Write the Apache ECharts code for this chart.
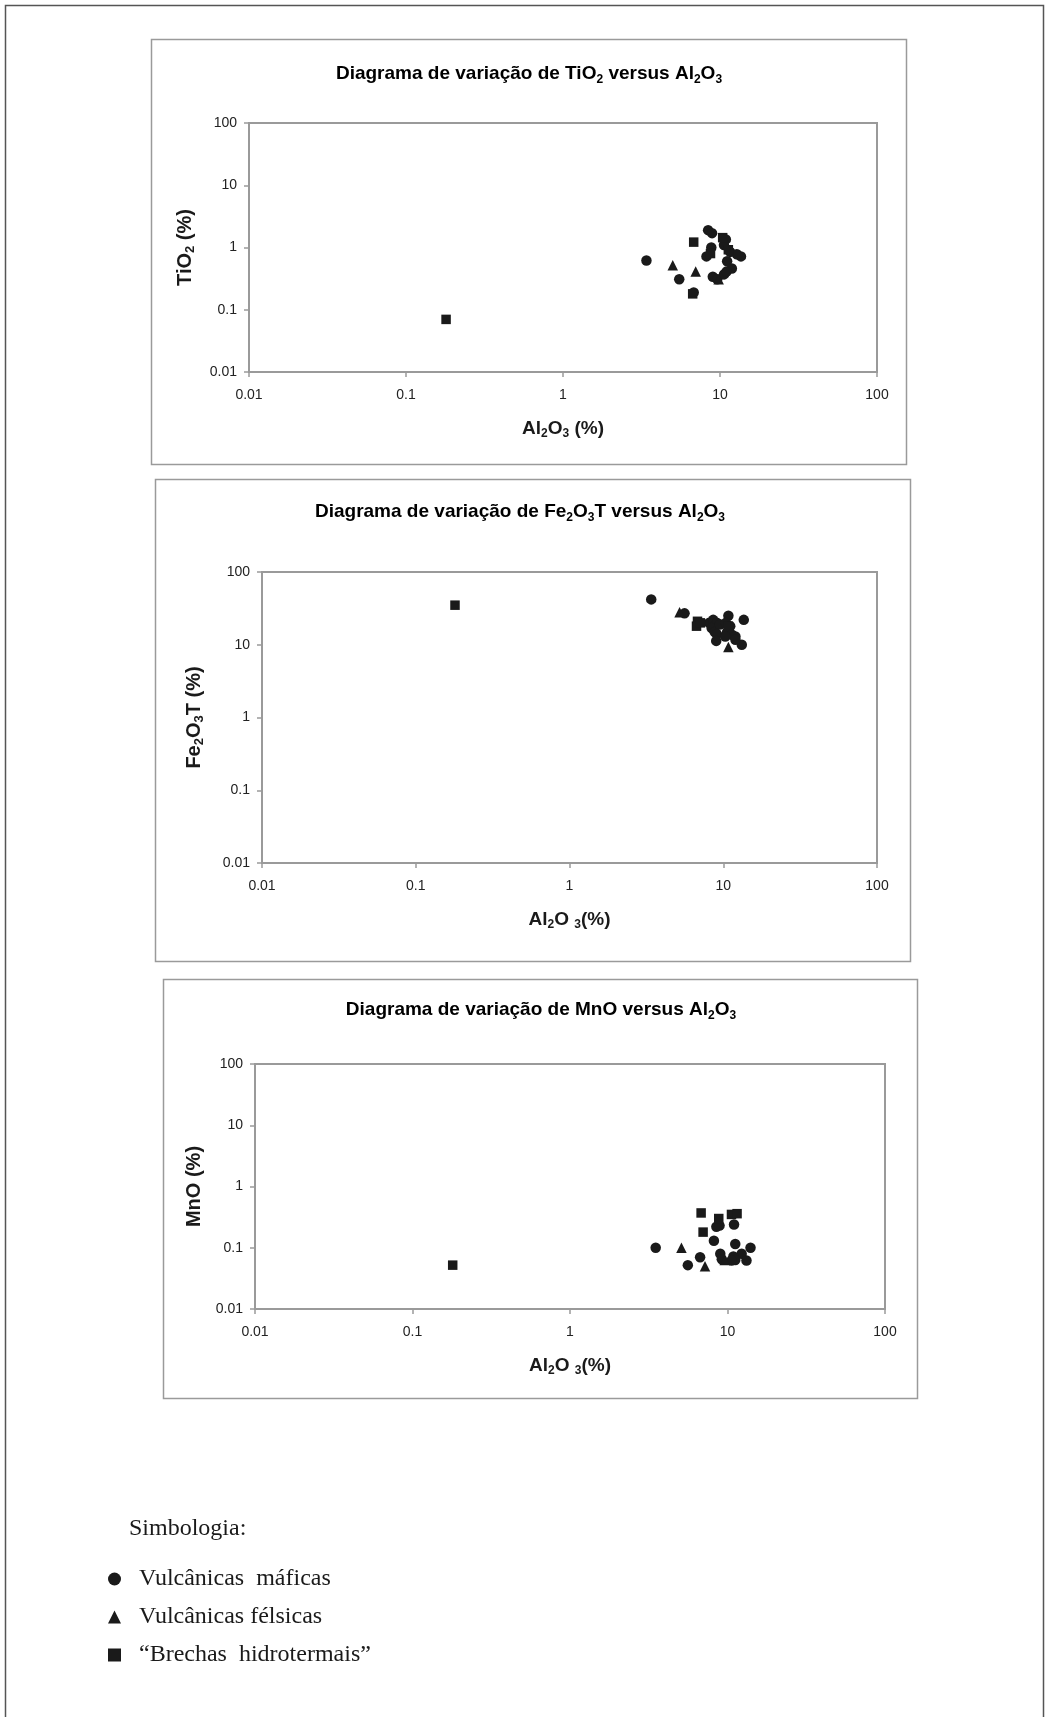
<!DOCTYPE html>
<html><head><meta charset="utf-8">
<script src="https://cdn.jsdelivr.net/npm/echarts@6/dist/echarts.min.js"></script>
<style>html,body{margin:0;padding:0;background:#fff}#c{width:1050px;height:1717px}</style>
</head><body><div id="c"></div>
<script>
// ---- data ----
const tickLabels = ['0.01', '0.1', '1', '10', '100'];
const legendNames = ['Vulcânicas  máficas', 'Vulcânicas félsicas', '\u201cBrechas  hidrotermais\u201d'];

// Chart 1: TiO2 vs Al2O3  [Al2O3, TiO2]
const tiMafic = [[3.4,0.62],[5.5,0.31],[6.8,0.19],[8.4,1.9],[8.9,1.7],[8.8,1.0],[8.2,0.72],[10.9,1.35],[11.6,0.85],[13.6,0.72],[12.8,0.78],[11.1,0.6],[11.9,0.46],[9.0,0.34],[9.6,0.31],[10.6,0.37],[11.0,0.41],[10.6,1.1]];
const tiFelsic = [[5.0,0.52],[7.0,0.41],[9.8,0.31]];
const tiBreccia = [[0.18,0.07],[6.8,1.22],[6.7,0.18],[8.7,0.8],[10.4,1.44],[11.3,0.92]];

// Chart 2: Fe2O3T vs Al2O3  [Al2O3, Fe2O3T]
const feMafic = [[3.4,42],[5.6,27],[8.1,20],[8.6,22],[9.1,20],[8.4,17],[8.8,15],[9.5,19],[9.1,14],[9.0,11.3],[10.8,25],[10.4,20],[11.1,18],[10.6,15],[11.4,13.7],[10.3,13],[12.0,13],[13.6,22],[13.2,10],[12.0,11.7]];
const feFelsic = [[5.2,28],[10.8,9.3]];
const feBreccia = [[0.18,35],[6.8,21],[6.7,18],[7.1,20],[10.8,18]];

// Chart 3: MnO vs Al2O3  [Al2O3, MnO]
const mnMafic = [[3.5,0.1],[5.6,0.052],[6.7,0.07],[8.5,0.22],[8.9,0.23],[11.0,0.24],[8.2,0.13],[11.2,0.115],[14.0,0.1],[12.3,0.08],[9.0,0.08],[9.2,0.065],[10.9,0.072],[11.2,0.063],[10.6,0.062],[13.2,0.062]];
const mnFelsic = [[5.1,0.1],[7.2,0.05],[9.6,0.063]];
const mnBreccia = [[0.18,0.052],[6.8,0.37],[7.0,0.18],[8.8,0.30],[10.6,0.35],[11.5,0.36]];

// ---- styles ----
const SANS = '"Liberation Sans", Arial, sans-serif';
const SERIF = '"Liberation Serif", "Times New Roman", serif';
const INK = '#1a1a1a';
const GRAY = '#9a9a9a';

function rich(fs, sub) {
  return {
    b: { fontSize: fs, fontWeight: 'bold', fontFamily: SANS, color: INK, verticalAlign: 'middle', lineHeight: fs + 4 },
    s: { fontSize: sub, fontWeight: 'bold', fontFamily: SANS, color: INK, verticalAlign: 'bottom', lineHeight: sub }
  };
}

const grids = [
  { left: 249, top: 123, width: 628, height: 249 },
  { left: 262, top: 572, width: 615, height: 291 },
  { left: 255, top: 1064, width: 630, height: 245 }
];

const xNames = ['{b|Al}{s|2}{b|O}{s|3}{b| (%)}', '{b|Al}{s|2}{b|O }{s|3}{b|(%)}', '{b|Al}{s|2}{b|O }{s|3}{b|(%)}'];
const yNames = ['{b|TiO}{s|2}{b| (%)}', '{b|Fe}{s|2}{b|O}{s|3}{b|T (%)}', '{b|MnO (%)}'];
const yNameGaps = [52, 56, 49];

function axisCommon(i) {
  return {
    type: 'log', logBase: 10, min: 0.01, max: 100, gridIndex: i,
    axisLine: { show: true, onZero: false, lineStyle: { color: GRAY, width: 2 } },
    axisTick: { show: true, inside: false, length: 5, lineStyle: { color: GRAY, width: 1.5 } },
    axisLabel: { fontSize: 14, color: '#222', fontFamily: SANS,
      formatter: v => tickLabels[Math.round(Math.log10(v)) + 2] },
    splitLine: { show: false },
    minorTick: { show: false }
  };
}

const xAxes = grids.map((g, i) => Object.assign(axisCommon(i), {
  name: xNames[i], nameLocation: 'middle', nameGap: 45,
  nameTextStyle: { rich: rich(19, 12) },
  axisLabel: Object.assign(axisCommon(i).axisLabel, { margin: 16 })
}));
const yAxes = grids.map((g, i) => Object.assign(axisCommon(i), {
  name: yNames[i], nameLocation: 'middle', nameGap: yNameGaps[i],
  nameTextStyle: { rich: rich(20, 13) },
  axisLabel: Object.assign(axisCommon(i).axisLabel, { margin: 12 })
}));

const sets = [[tiMafic, tiFelsic, tiBreccia], [feMafic, feFelsic, feBreccia], [mnMafic, mnFelsic, mnBreccia]];
const symbols = ['circle', 'triangle', 'rect'];
const sizes = [10.5, 10.5, 9.5];
const series = [];
sets.forEach((trip, gi) => {
  trip.forEach((d, k) => {
    series.push({
      type: 'scatter', name: legendNames[k], xAxisIndex: gi, yAxisIndex: gi,
      data: d, symbol: symbols[k], symbolSize: sizes[k],
      itemStyle: { color: INK, opacity: 1 }, emphasis: { disabled: true }, z: 3
    });
  });
});

const titles = [
  { x: 529, y: 74, t: '{b|Diagrama de variação de TiO}{s|2}{b| versus Al}{s|2}{b|O}{s|3}' },
  { x: 520, y: 512, t: '{b|Diagrama de variação de Fe}{s|2}{b|O}{s|3}{b|T versus Al}{s|2}{b|O}{s|3}' },
  { x: 541, y: 1010, t: '{b|Diagrama de variação de MnO versus Al}{s|2}{b|O}{s|3}' }
];

const graphic = [
  { type: 'rect', shape: { x: 5.5, y: 5.5, width: 1038, height: 1760 }, style: { fill: 'none', stroke: '#555', lineWidth: 1.5 }, silent: true, z: 0 },
  { type: 'rect', shape: { x: 151.5, y: 39.5, width: 755, height: 425 }, style: { fill: 'none', stroke: GRAY, lineWidth: 1.5 }, silent: true, z: 0 },
  { type: 'rect', shape: { x: 155.5, y: 479.5, width: 755, height: 482 }, style: { fill: 'none', stroke: GRAY, lineWidth: 1.5 }, silent: true, z: 0 },
  { type: 'rect', shape: { x: 163.5, y: 979.5, width: 754, height: 419 }, style: { fill: 'none', stroke: GRAY, lineWidth: 1.5 }, silent: true, z: 0 },
  { type: 'text', x: 129, y: 1529, style: { text: 'Simbologia:', font: '24px ' + SERIF, fill: INK, align: 'left', verticalAlign: 'middle' }, silent: true }
].concat(titles.map(t => ({
  type: 'text', x: t.x, y: t.y, silent: true,
  style: { text: t.t, rich: rich(19, 12), align: 'center', verticalAlign: 'middle' }
})));

const chart = echarts.init(document.getElementById('c'), null, { renderer: 'canvas' });
chart.setOption({
  animation: false,
  backgroundColor: '#fff',
  grid: grids.map(g => Object.assign({ show: true, borderColor: GRAY, borderWidth: 2, backgroundColor: 'transparent' }, g)),
  xAxis: xAxes,
  yAxis: yAxes,
  series: series,
  legend: {
    data: legendNames, orient: 'vertical', left: 103, top: 1562,
    itemWidth: 13, itemHeight: 13, itemGap: 14, selectedMode: false,
    textStyle: { fontSize: 24, fontFamily: SERIF, color: INK, lineHeight: 24, padding: [0, 0, 0, 13] },
    itemStyle: { color: INK }
  },
  graphic: graphic
});
</script></body></html>
